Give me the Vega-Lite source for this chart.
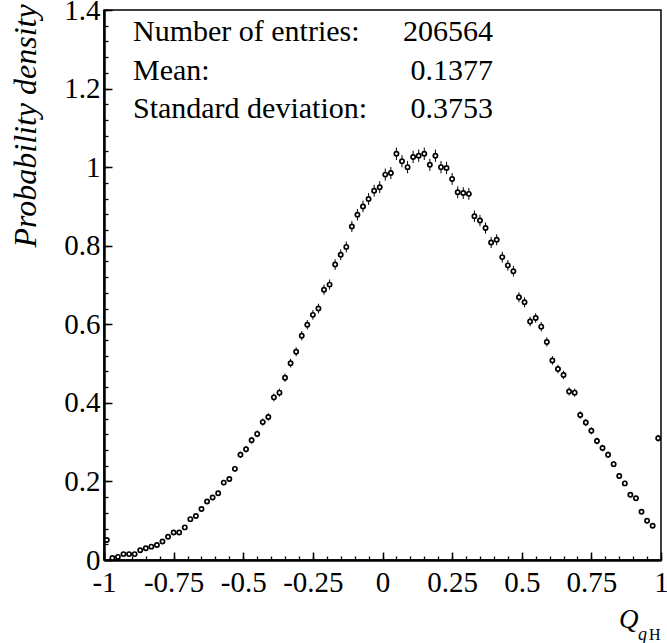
{
  "$schema": "https://vega.github.io/schema/vega-lite/v6.json",
  "width": 557,
  "height": 550,
  "autosize": {"type": "none"},
  "padding": {"left": 104, "top": 10, "right": 6, "bottom": 83},
  "background": "white",
  "config": {
    "view": {"stroke": "black", "strokeWidth": 1.5},
    "font": "Liberation Serif"
  },
  "data": {"values": [
    {"x": -0.99, "y": 0.051, "err": 0.0035},
    {"x": -0.97, "y": 0.005, "err": 0.0011},
    {"x": -0.95, "y": 0.008, "err": 0.0014},
    {"x": -0.93, "y": 0.015, "err": 0.0019},
    {"x": -0.91, "y": 0.015, "err": 0.0019},
    {"x": -0.89, "y": 0.015, "err": 0.0019},
    {"x": -0.87, "y": 0.025, "err": 0.0025},
    {"x": -0.85, "y": 0.030, "err": 0.0027},
    {"x": -0.83, "y": 0.034, "err": 0.0029},
    {"x": -0.81, "y": 0.038, "err": 0.0030},
    {"x": -0.79, "y": 0.047, "err": 0.0034},
    {"x": -0.77, "y": 0.059, "err": 0.0038},
    {"x": -0.75, "y": 0.070, "err": 0.0041},
    {"x": -0.73, "y": 0.070, "err": 0.0041},
    {"x": -0.71, "y": 0.083, "err": 0.0045},
    {"x": -0.69, "y": 0.104, "err": 0.0050},
    {"x": -0.67, "y": 0.112, "err": 0.0052},
    {"x": -0.65, "y": 0.130, "err": 0.0056},
    {"x": -0.63, "y": 0.149, "err": 0.0060},
    {"x": -0.61, "y": 0.159, "err": 0.0062},
    {"x": -0.59, "y": 0.170, "err": 0.0064},
    {"x": -0.57, "y": 0.197, "err": 0.0069},
    {"x": -0.55, "y": 0.206, "err": 0.0071},
    {"x": -0.53, "y": 0.232, "err": 0.0075},
    {"x": -0.51, "y": 0.268, "err": 0.0081},
    {"x": -0.49, "y": 0.282, "err": 0.0083},
    {"x": -0.47, "y": 0.305, "err": 0.0086},
    {"x": -0.45, "y": 0.321, "err": 0.0088},
    {"x": -0.43, "y": 0.351, "err": 0.0092},
    {"x": -0.41, "y": 0.364, "err": 0.0094},
    {"x": -0.39, "y": 0.414, "err": 0.0100},
    {"x": -0.37, "y": 0.426, "err": 0.0102},
    {"x": -0.35, "y": 0.464, "err": 0.0106},
    {"x": -0.33, "y": 0.501, "err": 0.0110},
    {"x": -0.31, "y": 0.530, "err": 0.0113},
    {"x": -0.29, "y": 0.571, "err": 0.0118},
    {"x": -0.27, "y": 0.599, "err": 0.0120},
    {"x": -0.25, "y": 0.624, "err": 0.0123},
    {"x": -0.23, "y": 0.640, "err": 0.0124},
    {"x": -0.21, "y": 0.688, "err": 0.0129},
    {"x": -0.19, "y": 0.701, "err": 0.0130},
    {"x": -0.17, "y": 0.752, "err": 0.0135},
    {"x": -0.15, "y": 0.777, "err": 0.0137},
    {"x": -0.13, "y": 0.797, "err": 0.0139},
    {"x": -0.11, "y": 0.849, "err": 0.0143},
    {"x": -0.09, "y": 0.879, "err": 0.0146},
    {"x": -0.07, "y": 0.900, "err": 0.0148},
    {"x": -0.05, "y": 0.919, "err": 0.0149},
    {"x": -0.03, "y": 0.940, "err": 0.0151},
    {"x": -0.01, "y": 0.949, "err": 0.0152},
    {"x": 0.01, "y": 0.981, "err": 0.0154},
    {"x": 0.03, "y": 0.985, "err": 0.0154},
    {"x": 0.05, "y": 1.034, "err": 0.0158},
    {"x": 0.07, "y": 1.015, "err": 0.0157},
    {"x": 0.09, "y": 1.000, "err": 0.0156},
    {"x": 0.11, "y": 1.026, "err": 0.0158},
    {"x": 0.13, "y": 1.029, "err": 0.0158},
    {"x": 0.15, "y": 1.034, "err": 0.0158},
    {"x": 0.17, "y": 1.006, "err": 0.0156},
    {"x": 0.19, "y": 1.029, "err": 0.0158},
    {"x": 0.21, "y": 1.000, "err": 0.0156},
    {"x": 0.23, "y": 0.998, "err": 0.0156},
    {"x": 0.25, "y": 0.970, "err": 0.0153},
    {"x": 0.27, "y": 0.936, "err": 0.0151},
    {"x": 0.29, "y": 0.934, "err": 0.0150},
    {"x": 0.31, "y": 0.932, "err": 0.0150},
    {"x": 0.33, "y": 0.875, "err": 0.0146},
    {"x": 0.35, "y": 0.864, "err": 0.0145},
    {"x": 0.37, "y": 0.845, "err": 0.0143},
    {"x": 0.39, "y": 0.808, "err": 0.0140},
    {"x": 0.41, "y": 0.815, "err": 0.0140},
    {"x": 0.43, "y": 0.771, "err": 0.0137},
    {"x": 0.45, "y": 0.750, "err": 0.0135},
    {"x": 0.47, "y": 0.735, "err": 0.0133},
    {"x": 0.49, "y": 0.669, "err": 0.0127},
    {"x": 0.51, "y": 0.656, "err": 0.0126},
    {"x": 0.53, "y": 0.607, "err": 0.0121},
    {"x": 0.55, "y": 0.616, "err": 0.0122},
    {"x": 0.57, "y": 0.594, "err": 0.0120},
    {"x": 0.59, "y": 0.555, "err": 0.0116},
    {"x": 0.61, "y": 0.508, "err": 0.0111},
    {"x": 0.63, "y": 0.486, "err": 0.0108},
    {"x": 0.65, "y": 0.471, "err": 0.0107},
    {"x": 0.67, "y": 0.429, "err": 0.0102},
    {"x": 0.69, "y": 0.426, "err": 0.0102},
    {"x": 0.71, "y": 0.369, "err": 0.0095},
    {"x": 0.73, "y": 0.350, "err": 0.0092},
    {"x": 0.75, "y": 0.329, "err": 0.0089},
    {"x": 0.77, "y": 0.303, "err": 0.0086},
    {"x": 0.79, "y": 0.285, "err": 0.0083},
    {"x": 0.81, "y": 0.268, "err": 0.0081},
    {"x": 0.83, "y": 0.244, "err": 0.0077},
    {"x": 0.85, "y": 0.214, "err": 0.0072},
    {"x": 0.87, "y": 0.195, "err": 0.0069},
    {"x": 0.89, "y": 0.166, "err": 0.0063},
    {"x": 0.91, "y": 0.157, "err": 0.0062},
    {"x": 0.93, "y": 0.123, "err": 0.0055},
    {"x": 0.95, "y": 0.100, "err": 0.0049},
    {"x": 0.97, "y": 0.087, "err": 0.0046},
    {"x": 0.99, "y": 0.310, "err": 0.0087}
  ]},
  "resolve": {"axis": {"x": "independent", "y": "independent"}},
  "layer": [
    {
      "mark": {"type": "errorbar", "color": "black", "thickness": 1},
      "encoding": {
        "x": {"field": "x", "type": "quantitative",
          "scale": {"domain": [-1, 1], "nice": false, "zero": false},
          "axis": {"orient": "bottom", "values": [-1, -0.95, -0.9, -0.85, -0.8, -0.75, -0.7, -0.65, -0.6, -0.55, -0.5, -0.45, -0.4, -0.35, -0.3, -0.25, -0.2, -0.15, -0.1, -0.05, 0, 0.05, 0.1, 0.15, 0.2, 0.25, 0.3, 0.35, 0.4, 0.45, 0.5, 0.55, 0.6, 0.65, 0.7, 0.75, 0.8, 0.85, 0.9, 0.95, 1],
            "labels": false, "domain": false, "grid": false, "title": null,
            "tickSize": -4, "tickWidth": 1.3, "tickColor": "black"}},
        "y": {"field": "y", "type": "quantitative",
          "scale": {"domain": [0, 1.4], "nice": false, "zero": false},
          "axis": {"orient": "left", "values": [0, 0.04, 0.08, 0.12, 0.16, 0.2, 0.24, 0.28, 0.32, 0.36, 0.4, 0.44, 0.48, 0.52, 0.56, 0.6, 0.64, 0.68, 0.72, 0.76, 0.8, 0.84, 0.88, 0.92, 0.96, 1, 1.04, 1.08, 1.12, 1.16, 1.2, 1.24, 1.28, 1.32, 1.36, 1.4],
            "labels": false, "domain": false, "grid": false, "title": null,
            "tickSize": -4, "tickWidth": 1.3, "tickColor": "black"}},
        "yError": {"field": "err"}
      }
    },
    {
      "mark": {"type": "point", "shape": "circle", "filled": false, "fill": "white", "stroke": "black", "strokeWidth": 1.7, "size": 18, "opacity": 1},
      "encoding": {
        "x": {"field": "x", "type": "quantitative",
          "scale": {"domain": [-1, 1], "nice": false, "zero": false},
          "axis": {"orient": "bottom", "values": [-1, -0.75, -0.5, -0.25, 0, 0.25, 0.5, 0.75, 1],
            "labelExpr": "'' + datum.value",
            "labelFont": "Liberation Serif", "labelFontSize": 29, "labelColor": "black",
            "labelPadding": 16, "labelFlush": false, "labelOverlap": false, "labelBound": false,
            "domainColor": "black", "domainWidth": 2.5,
            "tickColor": "black", "tickSize": -8, "tickWidth": 1.5, "grid": false,
            "title": "Q", "titleFont": "Liberation Serif", "titleFontStyle": "italic", "titleFontWeight": "normal",
            "titleFontSize": 27, "titleColor": "black",
            "titleX": 534, "titleY": 67, "titleAlign": "right", "titleBaseline": "alphabetic"}},
        "y": {"field": "y", "type": "quantitative",
          "scale": {"domain": [0, 1.4], "nice": false, "zero": false},
          "axis": {"orient": "left", "values": [0, 0.2, 0.4, 0.6, 0.8, 1, 1.2, 1.4],
            "labelExpr": "'' + datum.value",
            "labelFont": "Liberation Serif", "labelFontSize": 29, "labelColor": "black",
            "labelPadding": 12, "labelFlush": false, "labelOverlap": false, "labelBound": false,
            "domainColor": "black", "domainWidth": 2.5,
            "tickColor": "black", "tickSize": -8, "tickWidth": 1.5, "grid": false,
            "title": "Probability density", "titleFont": "Liberation Serif", "titleFontStyle": "italic", "titleFontWeight": "normal",
            "titleFontSize": 32, "titleColor": "black", "titleAngle": -90,
            "titleX": -69, "titleY": 237, "titleAlign": "left", "titleBaseline": "alphabetic"}}
      }
    },
    {
      "data": {"values": [{"label": "stats"}]},
      "mark": {"type": "text", "align": "left", "baseline": "alphabetic", "font": "Liberation Serif", "fontSize": 30, "lineHeight": 38.3, "color": "black"},
      "encoding": {
        "x": {"datum": -0.896, "type": "quantitative", "axis": null},
        "y": {"datum": 1.32, "type": "quantitative", "axis": null},
        "text": {"value": ["Number of entries:", "Mean:", "Standard deviation:"]}
      }
    },
    {
      "data": {"values": [{"label": "values"}]},
      "mark": {"type": "text", "align": "right", "baseline": "alphabetic", "font": "Liberation Serif", "fontSize": 30, "lineHeight": 38.3, "color": "black"},
      "encoding": {
        "x": {"datum": 0.397, "type": "quantitative", "axis": null},
        "y": {"datum": 1.32, "type": "quantitative", "axis": null},
        "text": {"value": ["206564", "0.1377", "0.3753"]}
      }
    },
    {
      "data": {"values": [{"label": "q"}]},
      "mark": {"type": "text", "align": "left", "baseline": "alphabetic", "font": "Liberation Serif", "fontStyle": "italic", "fontSize": 18, "color": "black", "dx": -23, "dy": 80},
      "encoding": {
        "x": {"datum": 1, "type": "quantitative", "axis": null},
        "y": {"datum": 0, "type": "quantitative", "axis": null},
        "text": {"field": "label"}
      }
    },
    {
      "data": {"values": [{"label": "H"}]},
      "mark": {"type": "text", "align": "left", "baseline": "alphabetic", "font": "Liberation Serif", "fontSize": 16, "color": "black", "dx": -12, "dy": 80},
      "encoding": {
        "x": {"datum": 1, "type": "quantitative", "axis": null},
        "y": {"datum": 0, "type": "quantitative", "axis": null},
        "text": {"field": "label"}
      }
    }
  ]
}
